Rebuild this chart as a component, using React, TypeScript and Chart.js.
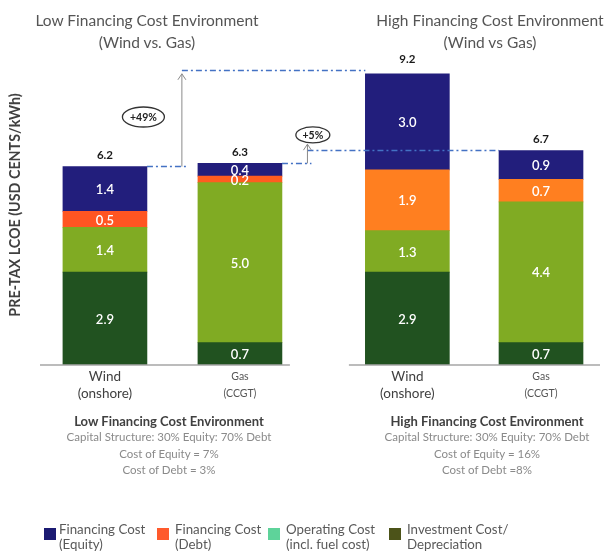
import React, { useEffect, useRef } from 'react';
import { Chart, registerables } from 'chart.js';

Chart.register(...registerables);

const FONT = 'Lato, "Open Sans", "DejaVu Sans", sans-serif';

// ---- data ----
const xTickLabels = [
  ['Wind', '(onshore)'],
  ['Gas', '(CCGT)'],
  ['Wind', '(onshore)'],
  ['Gas', '(CCGT)'],
];
const xPositions = [1, 2, 3.24, 4.23];
const seriesNames = [
  'Investment Cost/ Depreciation',
  'Operating Cost (incl. fuel cost)',
  'Financing Cost (Debt)',
  'Financing Cost (Equity)',
];
const investment = [2.9, 0.7, 2.9, 0.7];
const operating = [1.4, 5.0, 1.3, 4.4];
const debt = [0.5, 0.2, 1.9, 0.7];
const equity = [1.4, 0.4, 3.0, 0.9];
const totals = [6.2, 6.3, 9.2, 6.7];

const groupTitles = [
  ['Low Financing Cost Environment', '(Wind vs. Gas)'],
  ['High Financing Cost Environment', '(Wind vs Gas)'],
];
const groupNotes = [
  ['Low Financing Cost Environment', 'Capital Structure: 30% Equity: 70% Debt', 'Cost of Equity = 7%', 'Cost of Debt = 3%'],
  ['High Financing Cost Environment', 'Capital Structure: 30% Equity: 70% Debt', 'Cost of Equity = 16%', 'Cost of Debt =8%'],
];
const legendItems = [
  ['Financing Cost', '(Equity)'],
  ['Financing Cost', '(Debt)'],
  ['Operating Cost', '(incl. fuel cost)'],
  ['Investment Cost/', 'Depreciation'],
];
const yTitle = 'PRE-TAX LCOE (USD CENTS/kWh)';

// growth annotations: from bar index -> to bar index
const growth = [
  { fromBar: 0, toBar: 2, at: 1.57, tip: 9.1, label: '+49%', lx: 1.285, ly: 7.75, rx: 21, ry: 10 },
  { fromBar: 1, toBar: 3, at: 2.5, tip: 6.9, label: '+5%', lx: 2.54, ly: 7.19, rx: 17, ry: 8 },
];
const axisSpans = [
  [0.519, 2.37],
  [2.807, 4.667],
];

// ---- styles ----
const colInvestment = '#215220';
const colOperating = '#80AB23';
const colDebt = ['#FF5522', '#FF5C20', '#FF7F20', '#FF7F20'];
const colEquity = '#221E7C';
const legendColors = ['#1B1A72', '#FF5A2C', '#5ED39A', '#4C5319'];

const labelsPlugin = {
  id: 'segLabels',
  afterDatasetsDraw(chart: any) {
    const ctx = chart.ctx;
    ctx.save();
    ctx.textAlign = 'center';
    ctx.textBaseline = 'middle';
    chart.data.datasets.forEach((ds: any, di: number) => {
      const meta = chart.getDatasetMeta(di);
      meta.data.forEach((el: any, i: number) => {
        const v = ds.data[i].y;
        ctx.fillStyle = '#ffffff';
        ctx.font = `600 13px ${FONT}`;
        ctx.fillText(v.toFixed(1), el.x, (el.y + el.base) / 2 + 1);
      });
    });
    const topMeta = chart.getDatasetMeta(chart.data.datasets.length - 1);
    const ys = chart.scales.y;
    topMeta.data.forEach((el: any, i: number) => {
      ctx.fillStyle = '#1a1a1a';
      ctx.font = `bold 11.5px ${FONT}`;
      ctx.fillText(totals[i].toFixed(1), el.x, ys.getPixelForValue(totals[i]) - 11);
    });
    ctx.restore();
  },
};

const annotPlugin = {
  id: 'annot',
  afterDraw(chart: any) {
    const ctx = chart.ctx;
    const xs = chart.scales.x;
    const ys = chart.scales.y;
    const topMeta = chart.getDatasetMeta(chart.data.datasets.length - 1);
    ctx.save();
    // baselines
    ctx.strokeStyle = '#a6a6a6';
    ctx.lineWidth = 1.5;
    const by = ys.getPixelForValue(0);
    axisSpans.forEach(([a, b]) => {
      ctx.beginPath();
      ctx.moveTo(xs.getPixelForValue(a), by);
      ctx.lineTo(xs.getPixelForValue(b), by);
      ctx.stroke();
    });
    growth.forEach((g) => {
      const fromEl = topMeta.data[g.fromBar];
      const toEl = topMeta.data[g.toBar];
      const y1 = ys.getPixelForValue(totals[g.fromBar]);
      const y2 = ys.getPixelForValue(totals[g.toBar]);
      const ax = xs.getPixelForValue(g.at);
      ctx.strokeStyle = '#4472C4';
      ctx.lineWidth = 1.5;
      ctx.setLineDash([6, 3, 2, 3]);
      ctx.beginPath();
      ctx.moveTo(fromEl.x + fromEl.width / 2, y1);
      ctx.lineTo(ax + 4, y1);
      ctx.stroke();
      ctx.beginPath();
      ctx.moveTo(ax, y2);
      ctx.lineTo(toEl.x - toEl.width / 2, y2);
      ctx.stroke();
      ctx.setLineDash([]);
      // arrow
      const ty = ys.getPixelForValue(g.tip);
      ctx.strokeStyle = '#8a8a8a';
      ctx.lineWidth = 1;
      ctx.beginPath();
      ctx.moveTo(ax, y1);
      ctx.lineTo(ax, ty);
      ctx.moveTo(ax - 4, ty + 6);
      ctx.lineTo(ax, ty);
      ctx.lineTo(ax + 4, ty + 6);
      ctx.stroke();
      // ellipse label
      const ex = xs.getPixelForValue(g.lx);
      const ey = ys.getPixelForValue(g.ly);
      ctx.strokeStyle = '#333333';
      ctx.lineWidth = 1.3;
      ctx.beginPath();
      ctx.ellipse(ex, ey, g.rx, g.ry, 0, 0, Math.PI * 2);
      ctx.stroke();
      ctx.fillStyle = '#222222';
      ctx.font = `bold 10.5px ${FONT}`;
      ctx.textAlign = 'center';
      ctx.textBaseline = 'middle';
      ctx.fillText(g.label, ex, ey + 0.5);
    });
    ctx.restore();
  },
};

export default function App() {
  const ref = useRef<HTMLCanvasElement | null>(null);

  useEffect(() => {
    if (!ref.current) return;
    const mk = (vals: number[]) => vals.map((v, i) => ({ x: xPositions[i], y: v }));
    const chart = new Chart(ref.current, {
      type: 'bar',
      data: {
        datasets: [
          { label: seriesNames[0], data: mk(investment), backgroundColor: colInvestment },
          { label: seriesNames[1], data: mk(operating), backgroundColor: colOperating },
          { label: seriesNames[2], data: mk(debt), backgroundColor: colDebt },
          { label: seriesNames[3], data: mk(equity), backgroundColor: colEquity },
        ] as any,
      },
      options: {
        animation: false,
        responsive: false,
        events: [],
        datasets: { bar: { barThickness: 84, borderWidth: 0 } } as any,
        layout: { padding: { left: 5, right: 6, top: 45, bottom: 143 } },
        plugins: { legend: { display: false }, tooltip: { enabled: false } },
        scales: {
          x: {
            type: 'linear',
            min: 0.519,
            max: 4.667,
            stacked: true,
            offset: false,
            grid: { display: false, drawTicks: false },
            border: { display: false },
            afterBuildTicks: (axis: any) => {
              axis.ticks = xPositions.map((v) => ({ value: v }));
            },
            afterFit: (axis: any) => {
              axis.height = 45;
            },
            ticks: {
              autoSkip: false,
              maxRotation: 0,
              padding: 3,
              callback: (_v: any, index: number) => xTickLabels[index],
              font: (c: any) =>
                c.index % 2 === 0
                  ? { family: FONT, size: 13.5, lineHeight: 1.25 }
                  : { family: FONT, size: 10.5, lineHeight: 1.6 },
              color: (c: any) => (c.index % 2 === 0 ? '#404040' : '#555555'),
            },
          } as any,
          y: {
            stacked: true,
            min: 0,
            max: 10,
            grid: { display: false },
            border: { display: false },
            ticks: { display: false },
            afterFit: (axis: any) => {
              axis.width = 35;
            },
            title: {
              display: true,
              text: yTitle,
              color: '#404040',
              font: { family: FONT, size: 14.3, weight: 'bold' },
              padding: { top: 2, bottom: 0 },
            },
          } as any,
        },
      },
      plugins: [labelsPlugin, annotPlugin],
    });
    return () => chart.destroy();
  }, []);

  const titleCenters = [147, 490];
  const noteCenters = [169, 487];
  const legendX = [44, 157, 268, 389];
  const legendTextOff = [15, 18, 18, 18];

  return (
    <div style={{ position: 'fixed', left: 0, top: 0, width: 606, height: 553, background: '#fff', fontFamily: FONT }}>
      <canvas ref={ref} width={606} height={553} style={{ position: 'absolute', left: 0, top: 0, width: 606, height: 553 }} />
      {groupTitles.map((t, i) => (
        <div
          key={'t' + i}
          style={{
            position: 'absolute',
            left: titleCenters[i] - 150,
            width: 300,
            top: 9,
            textAlign: 'center',
            fontSize: 15.5,
            lineHeight: '22px',
            color: '#555555',
          }}
        >
          {t.map((l, j) => (
            <div key={j}>{l}</div>
          ))}
        </div>
      ))}
      {groupNotes.map((t, i) => (
        <div
          key={'n' + i}
          style={{
            position: 'absolute',
            left: noteCenters[i] - 150,
            width: 300,
            top: 413,
            textAlign: 'center',
            lineHeight: '16.3px',
          }}
        >
          {t.map((l, j) => (
            <div
              key={j}
              style={
                j === 0
                  ? { fontSize: 13, fontWeight: 'bold', color: '#404040' }
                  : { fontSize: 11.5, color: '#8a8a8a' }
              }
            >
              {l}
            </div>
          ))}
        </div>
      ))}
      {legendItems.map((t, i) => (
        <div key={'l' + i} style={{ position: 'absolute', left: legendX[i], top: 522 }}>
          <div
            style={{
              position: 'absolute',
              left: 0,
              top: 6,
              width: 12,
              height: 12,
              background: legendColors[i],
            }}
          />
          <div
            style={{
              position: 'absolute',
              left: legendTextOff[i],
              top: 0,
              whiteSpace: 'nowrap',
              fontSize: 13.3,
              lineHeight: '15px',
              color: '#595959',
            }}
          >
            {t.map((l, j) => (
              <div key={j}>{l}</div>
            ))}
          </div>
        </div>
      ))}
    </div>
  );
}
